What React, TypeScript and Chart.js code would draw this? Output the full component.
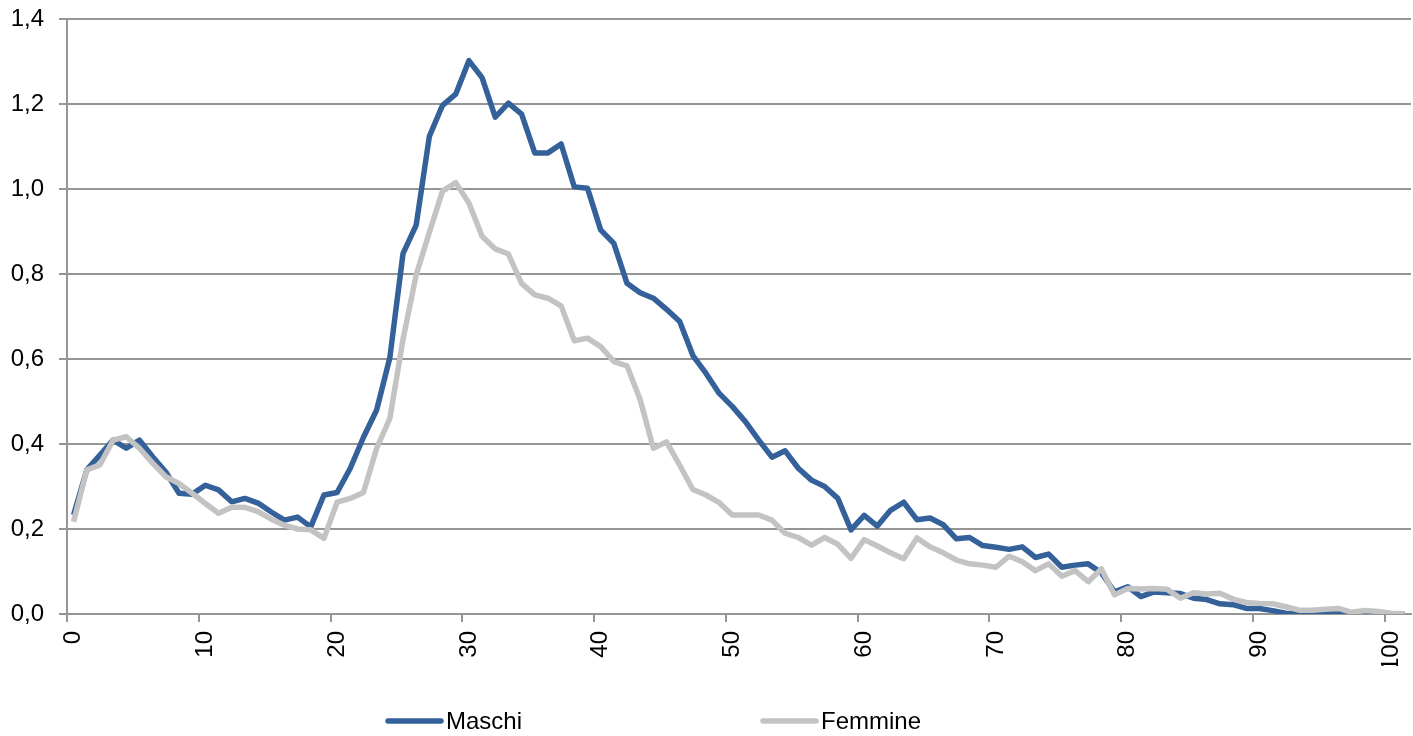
import React, { useEffect, useRef } from "react";
import { Chart, registerables } from "chart.js";

Chart.register(...registerables);

// Età (categorie)
const ages: string[] = [
  "0", "1", "2", "3", "4", "5", "6", "7", "8", "9",
  "10", "11", "12", "13", "14", "15", "16", "17", "18", "19",
  "20", "21", "22", "23", "24", "25", "26", "27", "28", "29",
  "30", "31", "32", "33", "34", "35", "36", "37", "38", "39",
  "40", "41", "42", "43", "44", "45", "46", "47", "48", "49",
  "50", "51", "52", "53", "54", "55", "56", "57", "58", "59",
  "60", "61", "62", "63", "64", "65", "66", "67", "68", "69",
  "70", "71", "72", "73", "74", "75", "76", "77", "78", "79",
  "80", "81", "82", "83", "84", "85", "86", "87", "88", "89",
  "90", "91", "92", "93", "94", "95", "96", "97", "98", "99",
  "100", "101",
];

// Etichette mostrate sull'asse X
const xTickLabels: string[] = ["0", "10", "20", "30", "40", "50", "60", "70", "80", "90", "100"];

// Etichette dell'asse Y
const yTicks: number[] = [0, 0.2, 0.4, 0.6, 0.8, 1.0, 1.2, 1.4];

const maschi: number[] = [
  0.233, 0.339, 0.374, 0.409, 0.390, 0.409, 0.370, 0.334, 0.284, 0.282,
  0.303, 0.292, 0.264, 0.272, 0.261, 0.240, 0.221, 0.228, 0.205, 0.280,
  0.286, 0.343, 0.416, 0.480, 0.603, 0.848, 0.915, 1.124, 1.197, 1.223,
  1.302, 1.262, 1.169, 1.202, 1.176, 1.085, 1.085, 1.106, 1.005, 1.002,
  0.904, 0.872, 0.778, 0.756, 0.743, 0.717, 0.688, 0.608, 0.566, 0.519,
  0.488, 0.452, 0.409, 0.369, 0.384, 0.343, 0.315, 0.300, 0.272, 0.198,
  0.232, 0.207, 0.244, 0.263, 0.222, 0.226, 0.210, 0.177, 0.180, 0.161,
  0.157, 0.152, 0.158, 0.133, 0.141, 0.110, 0.115, 0.118, 0.097, 0.052,
  0.064, 0.041, 0.052, 0.050, 0.048, 0.037, 0.034, 0.024, 0.022, 0.013,
  0.013, 0.008, 0.002, 0.000, 0.001, 0.000, 0.003, 0.000, 0.000, 0.000,
  0.000, 0.000,
];

const femmine: number[] = [
  0.217, 0.339, 0.351, 0.409, 0.417, 0.390, 0.355, 0.323, 0.307, 0.284,
  0.260, 0.237, 0.251, 0.251, 0.241, 0.223, 0.209, 0.200, 0.198, 0.178,
  0.263, 0.272, 0.286, 0.390, 0.460, 0.646, 0.798, 0.898, 0.995, 1.015,
  0.967, 0.889, 0.859, 0.847, 0.778, 0.751, 0.743, 0.725, 0.643, 0.649,
  0.629, 0.594, 0.584, 0.504, 0.390, 0.405, 0.350, 0.293, 0.280, 0.262,
  0.233, 0.233, 0.233, 0.221, 0.190, 0.180, 0.162, 0.180, 0.164, 0.131,
  0.175, 0.160, 0.144, 0.130, 0.179, 0.158, 0.144, 0.127, 0.118, 0.115,
  0.110, 0.136, 0.123, 0.102, 0.118, 0.089, 0.102, 0.076, 0.106, 0.045,
  0.060, 0.059, 0.060, 0.058, 0.037, 0.050, 0.047, 0.049, 0.035, 0.027,
  0.025, 0.024, 0.017, 0.009, 0.009, 0.011, 0.013, 0.004, 0.008, 0.006,
  0.002, 0.000,
];

const seriesNames: string[] = ["Maschi", "Femmine"];

const FONT = '"Liberation Sans", Arial, sans-serif';
const FONT_SIZE = 24;
const BLUE = "#35619a";
const GREY = "#c3c3c3";
const AXIS = "#959595";

const legendPlugin = {
  id: "bottomLegend",
  afterDraw(chart: any) {
    const ctx = chart.ctx as CanvasRenderingContext2D;
    ctx.save();
    const y = 721;
    chart.data.datasets.forEach((ds: any, i: number) => {
      const x0 = 388 + i * 375;
      ctx.strokeStyle = ds.borderColor;
      ctx.lineWidth = 5.5;
      ctx.lineCap = "round";
      ctx.beginPath();
      ctx.moveTo(x0, y);
      ctx.lineTo(x0 + 53, y);
      ctx.stroke();
      ctx.fillStyle = "#000";
      ctx.font = `${FONT_SIZE}px ${FONT}`;
      ctx.textBaseline = "middle";
      ctx.textAlign = "left";
      ctx.fillText(ds.label, x0 + 58, y + 1);
    });
    ctx.restore();
  },
};

export default function App() {
  const ref = useRef<HTMLCanvasElement | null>(null);

  useEffect(() => {
    if (!ref.current) return;
    const chart = new Chart(ref.current, {
      type: "line",
      data: {
        labels: ages,
        datasets: [
          {
            label: seriesNames[0],
            data: maschi,
            borderColor: BLUE,
            backgroundColor: BLUE,
            borderWidth: 5.5,
            pointRadius: 0,
            tension: 0,
            borderJoinStyle: "round",
            order: 1,
          },
          {
            label: seriesNames[1],
            data: femmine,
            borderColor: GREY,
            backgroundColor: GREY,
            borderWidth: 5.5,
            pointRadius: 0,
            tension: 0,
            borderJoinStyle: "round",
            order: 0,
          },
        ],
      },
      options: {
        animation: false,
        responsive: true,
        maintainAspectRatio: false,
        layout: { padding: { top: 19, right: 2, bottom: 70, left: 0 } },
        plugins: {
          legend: { display: false },
          tooltip: { enabled: false },
        },
        scales: {
          x: {
            type: "category",
            offset: true,
            afterFit: (scale: any) => {
              scale.height = 52;
              scale.paddingLeft = 0;
              scale.paddingRight = 0;
            },
            grid: {
              offset: true,
              drawOnChartArea: false,
              drawTicks: true,
              tickLength: 8,
              lineWidth: 2,
              color: (c: any) => (c.index % 10 === 0 ? AXIS : "rgba(0,0,0,0)"),
            },
            border: { display: true, color: AXIS, width: 2 },
            ticks: {
              autoSkip: false,
              maxRotation: 90,
              minRotation: 90,
              padding: 9,
              color: "#000",
              font: { family: FONT, size: FONT_SIZE },
              callback: (_v: any, idx: number) =>
                xTickLabels.includes(ages[idx]) ? ages[idx] : "",
            },
          },
          y: {
            min: 0,
            max: 1.4,
            afterFit: (scale: any) => {
              scale.width = 67;
              scale.paddingTop = 0;
              scale.paddingBottom = 0;
            },
            afterBuildTicks: (scale: any) => {
              scale.ticks = yTicks.map((v) => ({ value: v }));
            },
            grid: {
              color: AXIS,
              lineWidth: 2,
              drawTicks: true,
              tickLength: 8,
            },
            border: { display: true, color: AXIS, width: 2 },
            ticks: {
              padding: 15,
              color: "#000",
              font: { family: FONT, size: FONT_SIZE },
              callback: (v: any) => Number(v).toFixed(1).replace(".", ","),
            },
          },
        },
      },
      plugins: [legendPlugin],
    });
    return () => chart.destroy();
  }, []);

  return (
    <div style={{ position: "absolute", left: 0, top: 0, width: 1413, height: 736, background: "#fff" }}>
      <canvas ref={ref} />
    </div>
  );
}
